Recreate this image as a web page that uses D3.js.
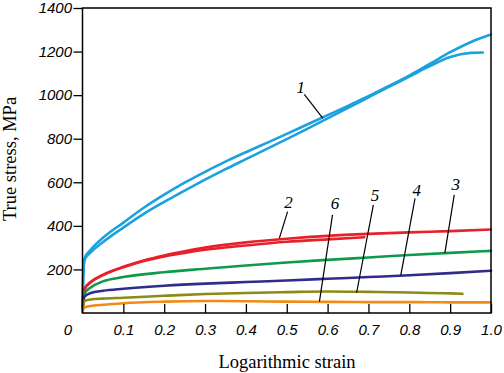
<!DOCTYPE html>
<html lang="en">
<head>
  <meta charset="UTF-8">
  <title>True stress vs logarithmic strain</title>
  <script src="https://d3js.org/d3.v7.min.js"></script>
  <style>
    body { margin: 0; background: #fff; }
    svg { display: block; }
    .curve { fill: none; stroke-width: 2.6px; stroke-linejoin: round; stroke-linecap: round; }
  </style>
</head>
<body>
  <svg id="chart" width="504" height="373"></svg>

  <script>
    // ----- data -----
    const xTicks = [0.1, 0.2, 0.3, 0.4, 0.5, 0.6, 0.7, 0.8, 0.9, 1.0];
    const yTicks = [200, 400, 600, 800, 1000, 1200, 1400];

    const strain1a = [0, 0.002, 0.005, 0.02, 0.05, 0.1, 0.15, 0.2, 0.25, 0.3, 0.35, 0.4, 0.45, 0.5, 0.55, 0.6, 0.65, 0.7, 0.75, 0.8, 0.85, 0.9, 0.95, 1.0];
    const stress1a = [10, 185, 252, 290, 345, 415, 483, 543, 598, 648, 695, 738, 780, 822, 865, 908, 951, 995, 1042, 1090, 1143, 1197, 1243, 1278];
    const strain1b = [0, 0.002, 0.005, 0.02, 0.05, 0.1, 0.15, 0.2, 0.25, 0.3, 0.35, 0.4, 0.45, 0.5, 0.55, 0.6, 0.65, 0.7, 0.75, 0.8, 0.85, 0.9, 0.95, 0.98];
    const stress1b = [10, 175, 242, 278, 325, 392, 455, 510, 562, 612, 660, 706, 752, 798, 845, 893, 942, 990, 1038, 1085, 1133, 1175, 1194, 1196];

    const strain2a = [0, 0.002, 0.005, 0.02, 0.05, 0.1, 0.15, 0.2, 0.25, 0.3, 0.4, 0.5, 0.6, 0.7, 0.8, 0.9, 1.0];
    const stress2a = [10, 80, 110, 142, 175, 212, 241, 264, 283, 300, 324, 341, 354, 363, 370, 376, 383];
    const strain2b = [0, 0.002, 0.005, 0.02, 0.05, 0.1, 0.15, 0.2, 0.25, 0.3, 0.4, 0.5, 0.6, 0.69];
    const stress2b = [10, 80, 110, 141, 174, 210, 239, 260, 276, 290, 310, 327, 338, 348];

    const strainStd = [0, 0.002, 0.005, 0.02, 0.05, 0.1, 0.2, 0.3, 0.4, 0.5, 0.6, 0.7, 0.8, 0.9, 1.0];
    const stress3 = [10, 60, 90, 117, 145, 165, 187, 203, 218, 232, 244, 255, 266, 276, 285];
    const stress4 = [10, 50, 75, 92, 102, 111, 125, 135, 142, 149, 157, 165, 173, 183, 194];
    const strain5 = [0, 0.002, 0.005, 0.02, 0.05, 0.1, 0.2, 0.3, 0.4, 0.5, 0.6, 0.7, 0.8, 0.9, 0.93];
    const stress5 = [5, 40, 55, 62, 66, 70, 79, 87, 92, 96, 99, 97, 94, 90, 88];
    const stress6 = [5, 18, 25, 32, 38, 45, 52, 55, 54, 52, 51, 50, 50, 49, 49];

    // label: text position and leader line, in data units
    const labelNames = ["1", "2", "6", "5", "4", "3"];
    const labelAt = [[0.534, 1010], [0.504, 482], [0.618, 478], [0.716, 514], [0.818, 537], [0.914, 565]];
    const leaderFrom = [[0.543, 1004], [0.502, 465], [0.612, 450], [0.712, 496], [0.814, 526], [0.910, 542]];
    const leaderTo = [[0.588, 894], [0.482, 344], [0.580, 52], [0.671, 93], [0.779, 172], [0.887, 275]];

    const series = [
      { x: strain1a, y: stress1a, color: "#1ba1de" },
      { x: strain1b, y: stress1b, color: "#1ba1de" },
      { x: strain2b, y: stress2b, color: "#e8202a" },
      { x: strain2a, y: stress2a, color: "#e8202a" },
      { x: strainStd, y: stress3, color: "#0d9b4b" },
      { x: strainStd, y: stress4, color: "#2f2c8c" },
      { x: strain5, y: stress5, color: "#8b8b16" },
      { x: strainStd, y: stress6, color: "#f28a14" }
    ];

    // ----- layout -----
    const plotLeft = 82.5, plotRight = 491, plotTop = 8, plotBottom = 313;
    const sansItalic = "'Liberation Sans', Arial, sans-serif";
    const serif = "'Liberation Serif', 'Times New Roman', serif";
    const svg = d3.select("#chart");

    const x = d3.scaleLinear().domain([0, 1]).range([plotLeft, plotRight]);
    const y = d3.scaleLinear().domain([0, 1400]).range([plotBottom, plotTop]);

    const line = d3.line()
      .x(d => x(d[0]))
      .y(d => y(d[1]))
      .curve(d3.curveMonotoneX);

    const plot = svg.append("g");
    series.forEach(s => {
      plot.append("path")
        .attr("class", "curve")
        .attr("stroke", s.color)
        .attr("d", line(s.x.map((v, i) => [v, s.y[i]])));
    });

    // frame
    svg.append("rect")
      .attr("x", plotLeft).attr("y", plotTop)
      .attr("width", plotRight - plotLeft).attr("height", plotBottom - plotTop)
      .attr("fill", "none").attr("stroke", "#000").attr("stroke-width", 1.5);

    function styleTicks(g) {
      g.select(".domain").remove();
      g.selectAll(".tick line").attr("stroke-width", 1.3);
      g.selectAll(".tick text")
        .style("font-family", sansItalic)
        .style("font-style", "italic")
        .style("font-size", "15px")
        .attr("fill", "#000");
    }

    // x axis, ticks pointing inside
    svg.append("g")
      .attr("transform", `translate(0,${plotBottom})`)
      .call(d3.axisBottom(x).tickValues(xTicks).tickSize(-9).tickPadding(11).tickFormat(d3.format(".1f")))
      .call(styleTicks);

    svg.append("text")
      .attr("x", 68).attr("y", 335)
      .attr("text-anchor", "middle")
      .style("font-family", sansItalic)
      .style("font-style", "italic").style("font-size", "15px")
      .text("0");

    // y axis, ticks pointing outside
    svg.append("g")
      .attr("transform", `translate(${plotLeft},0)`)
      .call(d3.axisLeft(y).tickValues(yTicks).tickSize(9).tickPadding(1.5).tickFormat(d3.format("d")))
      .call(styleTicks);

    // titles
    svg.append("text")
      .attr("transform", "translate(16,159) rotate(-90)")
      .attr("text-anchor", "middle")
      .style("font-family", serif).style("font-size", "18.5px")
      .text("True stress, MPa");

    svg.append("text")
      .attr("x", 287).attr("y", 368)
      .attr("text-anchor", "middle")
      .style("font-family", serif).style("font-size", "18.5px")
      .text("Logarithmic strain");

    // curve labels with leader lines
    labelNames.forEach((name, i) => {
      svg.append("line")
        .attr("x1", x(leaderFrom[i][0])).attr("y1", y(leaderFrom[i][1]))
        .attr("x2", x(leaderTo[i][0])).attr("y2", y(leaderTo[i][1]))
        .attr("stroke", "#000").attr("stroke-width", 1.2);
      svg.append("text")
        .attr("x", x(labelAt[i][0])).attr("y", y(labelAt[i][1]))
        .attr("text-anchor", "middle")
        .style("font-family", serif).style("font-style", "italic").style("font-size", "17px")
        .text(name);
    });
  </script>
</body>
</html>
